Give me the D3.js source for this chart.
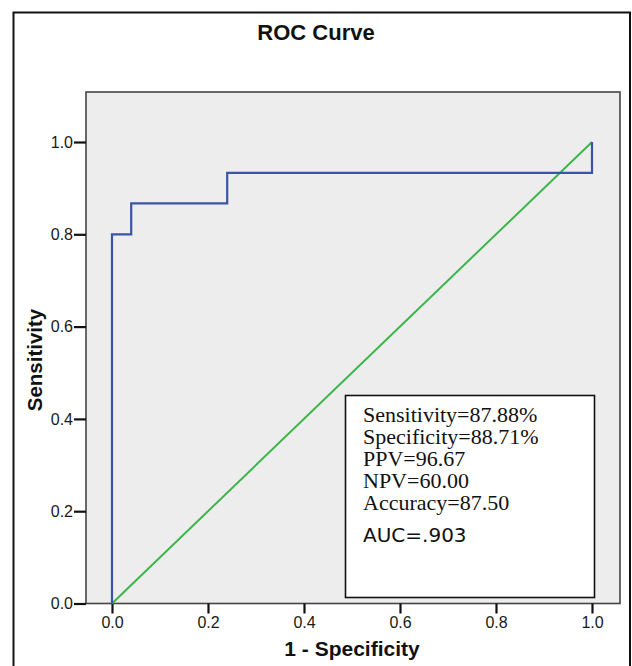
<!DOCTYPE html>
<html>
<head>
<meta charset="utf-8">
<script src="https://cdn.jsdelivr.net/npm/d3@7"></script>
<style>
  body { margin: 0; background: #fff; }
  svg { display: block; }
</style>
</head>
<body>
<div id="chart"></div>
<script>
// ROC points (1 - specificity, sensitivity), drawn as a step curve
const rocFpr = [0, 0, 0.04, 0.24, 1];
const rocTpr = [0, 0.8, 0.867, 0.933, 1];
// reference diagonal
const refFpr = [0, 1];
const refTpr = [0, 1];

const xTicks = [0, 0.2, 0.4, 0.6, 0.8, 1.0];
const yTicks = [0, 0.2, 0.4, 0.6, 0.8, 1.0];

const statLines = [
  'Sensitivity=87.88%',
  'Specificity=88.71%',
  'PPV=96.67',
  'NPV=60.00',
  'Accuracy=87.50'
];
const aucLabel = 'AUC=.903';

const width = 632;
const height = 666;

const svg = d3.select('#chart')
  .append('svg')
  .attr('width', width)
  .attr('height', height);

// outer frame, runs off the bottom of the picture
svg.append('rect')
  .attr('x', 13.5)
  .attr('y', 12.5)
  .attr('width', 616.5)
  .attr('height', 700)
  .attr('fill', '#fff')
  .attr('stroke', '#111')
  .attr('stroke-width', 2);

const x = d3.scaleLinear().domain([0, 1]).range([112, 592]);
const y = d3.scaleLinear().domain([0, 1]).range([603.5, 142]);

// plot panel
const panel = { left: 86, right: 620, top: 92, bottom: y(0) };
svg.append('rect')
  .attr('x', panel.left)
  .attr('y', panel.top)
  .attr('width', panel.right - panel.left)
  .attr('height', panel.bottom - panel.top)
  .attr('fill', '#ededed')
  .attr('stroke', '#444')
  .attr('stroke-width', 1.6);

svg.append('text')
  .text('ROC Curve')
  .attr('x', 316)
  .attr('y', 40)
  .attr('text-anchor', 'middle')
  .attr('font-family', 'Liberation Sans, Arial, sans-serif')
  .attr('font-weight', 'bold')
  .attr('font-size', '22px')
  .attr('fill', '#111');

// axes
const xAxis = d3.axisBottom(x)
  .tickValues(xTicks)
  .tickSize(10)
  .tickPadding(3)
  .tickFormat(d3.format('.1f'));

const yAxis = d3.axisLeft(y)
  .tickValues(yTicks)
  .tickSize(12)
  .tickPadding(1)
  .tickFormat(d3.format('.1f'));

const gx = svg.append('g')
  .attr('transform', 'translate(0,' + panel.bottom + ')')
  .call(xAxis);

const gy = svg.append('g')
  .attr('transform', 'translate(' + panel.left + ',0)')
  .call(yAxis);

[gx, gy].forEach(g => {
  g.select('.domain').remove();
  g.selectAll('.tick line')
    .attr('stroke', '#111')
    .attr('stroke-width', 2.2);
  g.selectAll('.tick text')
    .attr('font-family', 'Liberation Sans, Arial, sans-serif')
    .attr('font-size', '16px')
    .attr('fill', '#1a1a1a');
});

svg.append('text')
  .text('1 - Specificity')
  .attr('x', 352)
  .attr('y', 656)
  .attr('text-anchor', 'middle')
  .attr('font-family', 'Liberation Sans, Arial, sans-serif')
  .attr('font-weight', 'bold')
  .attr('font-size', '21px')
  .attr('fill', '#111');

svg.append('text')
  .text('Sensitivity')
  .attr('transform', 'translate(42,360) rotate(-90)')
  .attr('text-anchor', 'middle')
  .attr('font-family', 'Liberation Sans, Arial, sans-serif')
  .attr('font-weight', 'bold')
  .attr('font-size', '20.5px')
  .attr('fill', '#111');

// reference line
const refData = refFpr.map((v, i) => [v, refTpr[i]]);
svg.append('path')
  .datum(refData)
  .attr('d', d3.line().x(d => x(d[0])).y(d => y(d[1])))
  .attr('fill', 'none')
  .attr('stroke', '#3cb54a')
  .attr('stroke-width', 2);

// ROC curve
const rocData = rocFpr.map((v, i) => [v, rocTpr[i]]);
svg.append('path')
  .datum(rocData)
  .attr('d', d3.line()
    .x(d => x(d[0]))
    .y(d => y(d[1]))
    .curve(d3.curveStepAfter))
  .attr('fill', 'none')
  .attr('stroke', '#3a55a8')
  .attr('stroke-width', 2.2);

// stats box
const box = svg.append('g');
box.append('rect')
  .attr('x', 345.5)
  .attr('y', 395.5)
  .attr('width', 249)
  .attr('height', 202)
  .attr('fill', '#fff')
  .attr('stroke', '#111')
  .attr('stroke-width', 1.6);

box.selectAll('.stat')
  .data(statLines)
  .enter()
  .append('text')
  .attr('class', 'stat')
  .text(d => d)
  .attr('x', 363)
  .attr('y', (d, i) => 422 + i * 22.1)
  .attr('font-family', 'Liberation Serif, Times New Roman, serif')
  .attr('font-size', '22px')
  .attr('fill', '#111');

box.append('text')
  .text(aucLabel)
  .attr('x', 363)
  .attr('y', 542)
  .attr('font-family', 'DejaVu Sans, Verdana, sans-serif')
  .attr('font-size', '20px')
  .attr('fill', '#111');
</script>
</body>
</html>
